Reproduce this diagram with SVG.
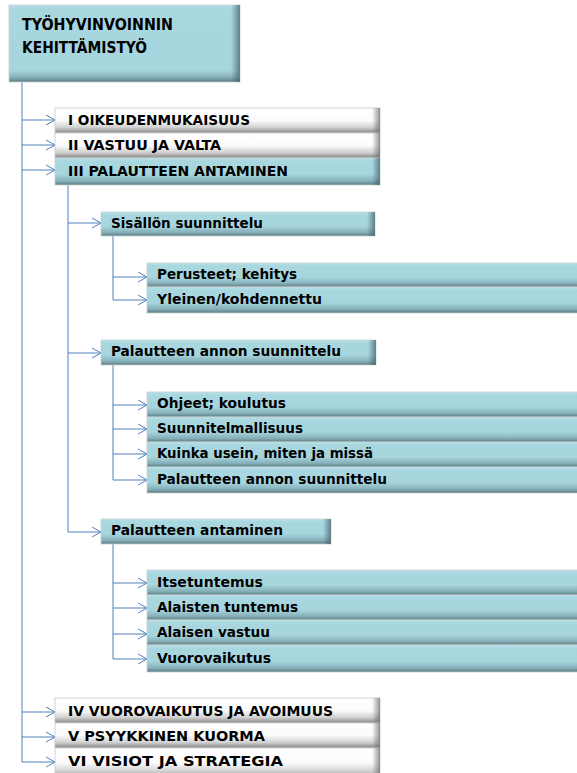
<svg xmlns="http://www.w3.org/2000/svg" width="577" height="773" viewBox="0 0 577 773">
<style>
.bl{fill:url(#gBlue);stroke:#c9cfd1;stroke-width:0.8}
.wh{fill:url(#gWhite);stroke:#c9c9c9;stroke-width:0.8}
.rb{fill:url(#gRightB)}
.rw{fill:url(#gRightW)}
.t{font-family:"Liberation Sans Narrow","DejaVu Sans Condensed","Liberation Sans",sans-serif;font-weight:bold;fill:#000;font-size:13.5px}
.tm{font-size:14px}
.tt{font-size:16px}
.c{fill:none;stroke:#4f81bd;stroke-width:1}
.a{marker-end:url(#arr)}
</style>
<defs>
<linearGradient id="gBlue" x1="0" y1="0" x2="0" y2="1">
<stop offset="0" stop-color="#b9e1e9"/>
<stop offset="0.12" stop-color="#a8d7e0"/>
<stop offset="0.6" stop-color="#a6d5de"/>
<stop offset="0.85" stop-color="#86b0b9"/>
<stop offset="1" stop-color="#5b7b82"/>
</linearGradient>
<linearGradient id="gWhite" x1="0" y1="0" x2="0" y2="1">
<stop offset="0" stop-color="#ffffff"/>
<stop offset="0.5" stop-color="#fbfbfb"/>
<stop offset="0.78" stop-color="#d0d0d0"/>
<stop offset="1" stop-color="#858585"/>
</linearGradient>
<linearGradient id="gRightB" x1="0" y1="0" x2="1" y2="0">
<stop offset="0" stop-color="#3d5c63" stop-opacity="0"/>
<stop offset="1" stop-color="#3d5c63" stop-opacity="0.7"/>
</linearGradient>
<linearGradient id="gRightW" x1="0" y1="0" x2="1" y2="0">
<stop offset="0" stop-color="#666" stop-opacity="0"/>
<stop offset="1" stop-color="#666" stop-opacity="0.7"/>
</linearGradient>
<linearGradient id="gBlueTop" x1="0" y1="0" x2="0" y2="1">
<stop offset="0" stop-color="#b9e1e9"/>
<stop offset="0.05" stop-color="#a8d7e0"/>
<stop offset="0.85" stop-color="#a6d5de"/>
<stop offset="0.94" stop-color="#86b0b9"/>
<stop offset="1" stop-color="#5b7b82"/>
</linearGradient>
<marker id="arr" markerUnits="userSpaceOnUse" markerWidth="12" markerHeight="12" refX="10" refY="6" orient="auto">
<path d="M1,1 L10,6 L1,11" fill="none" stroke="#4f81bd" stroke-width="1"/>
</marker>
</defs>

<g id="connectors">
<path class="c" d="M22,82 V762"/>
<path class="c a" d="M22,120 H55"/>
<path class="c a" d="M22,145 H55"/>
<path class="c a" d="M22,170 H55"/>
<path class="c a" d="M22,712 H55"/>
<path class="c a" d="M22,737 H55"/>
<path class="c a" d="M22,762 H55"/>
<path class="c" d="M68,185 V532"/>
<path class="c a" d="M68,223 H101"/>
<path class="c a" d="M68,353 H101"/>
<path class="c a" d="M68,532 H101"/>
<path class="c" d="M113,236 V300"/>
<path class="c a" d="M113,277 H147"/>
<path class="c a" d="M113,300 H147"/>
<path class="c" d="M113,365 V480"/>
<path class="c a" d="M113,405 H147"/>
<path class="c a" d="M113,429 H147"/>
<path class="c a" d="M113,454 H147"/>
<path class="c a" d="M113,480 H147"/>
<path class="c" d="M113,544 V659"/>
<path class="c a" d="M113,583 H147"/>
<path class="c a" d="M113,608 H147"/>
<path class="c a" d="M113,634 H147"/>
<path class="c a" d="M113,659 H147"/>
</g>

<g id="root">
<rect x="9" y="5" width="231" height="77" fill="url(#gBlueTop)" stroke="#c9cfd1" stroke-width="0.8"/>
<rect class="rb" x="231" y="5" width="9" height="77"/>
<text class="t tt" x="22" y="30" textLength="151" lengthAdjust="spacingAndGlyphs">TYÖHYVINVOINNIN</text>
<text class="t tt" x="22" y="53" textLength="125" lengthAdjust="spacingAndGlyphs">KEHITTÄMISTYÖ</text>
</g>

<g id="n1">
<rect class="wh" x="55" y="108" width="325" height="25"/>
<rect class="rw" x="372" y="108" width="8" height="25"/>
<text class="t" x="68" y="125" textLength="182" lengthAdjust="spacingAndGlyphs">I OIKEUDENMUKAISUUS</text>
</g>
<g id="n2">
<rect class="wh" x="55" y="133" width="325" height="25"/>
<rect class="rw" x="372" y="133" width="8" height="25"/>
<text class="t" x="68" y="150" textLength="153" lengthAdjust="spacingAndGlyphs">II VASTUU JA VALTA</text>
</g>
<g id="n3">
<rect class="bl" x="55" y="158" width="325" height="27"/>
<rect class="rb" x="372" y="158" width="8" height="27"/>
<text class="t" x="68" y="176" textLength="220" lengthAdjust="spacingAndGlyphs">III PALAUTTEEN ANTAMINEN</text>
</g>

<g id="n3a">
<rect class="bl" x="101" y="212" width="274" height="24"/>
<rect class="rb" x="367" y="212" width="8" height="24"/>
<text class="t tm" x="111" y="228" textLength="152" lengthAdjust="spacingAndGlyphs">Sisällön suunnittelu</text>
</g>
<g id="n3a1">
<rect class="bl" x="147" y="263" width="440" height="24"/>
<text class="t tm" x="157" y="279" textLength="140" lengthAdjust="spacingAndGlyphs">Perusteet; kehitys</text>
</g>
<g id="n3a2">
<rect class="bl" x="147" y="287" width="440" height="26"/>
<text class="t tm" x="157" y="304" textLength="165" lengthAdjust="spacingAndGlyphs">Yleinen/kohdennettu</text>
</g>

<g id="n3b">
<rect class="bl" x="101" y="340" width="275" height="25"/>
<rect class="rb" x="368" y="340" width="8" height="25"/>
<text class="t tm" x="111" y="356" textLength="230" lengthAdjust="spacingAndGlyphs">Palautteen annon suunnittelu</text>
</g>
<g id="n3b1">
<rect class="bl" x="147" y="392" width="440" height="25"/>
<text class="t tm" x="157" y="408" textLength="129" lengthAdjust="spacingAndGlyphs">Ohjeet; koulutus</text>
</g>
<g id="n3b2">
<rect class="bl" x="147" y="417" width="440" height="25"/>
<text class="t tm" x="157" y="433" textLength="146" lengthAdjust="spacingAndGlyphs">Suunnitelmallisuus</text>
</g>
<g id="n3b3">
<rect class="bl" x="147" y="442" width="440" height="25"/>
<text class="t tm" x="157" y="458" textLength="216" lengthAdjust="spacingAndGlyphs">Kuinka usein, miten ja missä</text>
</g>
<g id="n3b4">
<rect class="bl" x="147" y="467" width="440" height="26"/>
<text class="t tm" x="157" y="484" textLength="230" lengthAdjust="spacingAndGlyphs">Palautteen annon suunnittelu</text>
</g>

<g id="n3c">
<rect class="bl" x="101" y="519" width="230" height="25"/>
<rect class="rb" x="323" y="519" width="8" height="25"/>
<text class="t tm" x="111" y="535" textLength="172" lengthAdjust="spacingAndGlyphs">Palautteen antaminen</text>
</g>
<g id="n3c1">
<rect class="bl" x="147" y="570" width="440" height="25"/>
<text class="t tm" x="157" y="587" textLength="106" lengthAdjust="spacingAndGlyphs">Itsetuntemus</text>
</g>
<g id="n3c2">
<rect class="bl" x="147" y="595" width="440" height="25"/>
<text class="t tm" x="157" y="612" textLength="141" lengthAdjust="spacingAndGlyphs">Alaisten tuntemus</text>
</g>
<g id="n3c3">
<rect class="bl" x="147" y="620" width="440" height="25"/>
<text class="t tm" x="157" y="637" textLength="113" lengthAdjust="spacingAndGlyphs">Alaisen vastuu</text>
</g>
<g id="n3c4">
<rect class="bl" x="147" y="645" width="440" height="27"/>
<text class="t tm" x="157" y="663" textLength="114" lengthAdjust="spacingAndGlyphs">Vuorovaikutus</text>
</g>

<g id="n4">
<rect class="wh" x="55" y="698" width="325" height="25"/>
<rect class="rw" x="372" y="698" width="8" height="25"/>
<text class="t" x="68" y="716" textLength="265" lengthAdjust="spacingAndGlyphs">IV VUOROVAIKUTUS JA AVOIMUUS</text>
</g>
<g id="n5">
<rect class="wh" x="55" y="723" width="325" height="25"/>
<rect class="rw" x="372" y="723" width="8" height="25"/>
<text class="t" x="68" y="741" textLength="197" lengthAdjust="spacingAndGlyphs">V PSYYKKINEN KUORMA</text>
</g>
<g id="n6">
<rect class="wh" x="55" y="748" width="325" height="30"/>
<rect class="rw" x="372" y="748" width="8" height="30"/>
<text class="t" x="68" y="766" textLength="215" lengthAdjust="spacingAndGlyphs">VI VISIOT JA STRATEGIA</text>
</g>
</svg>
